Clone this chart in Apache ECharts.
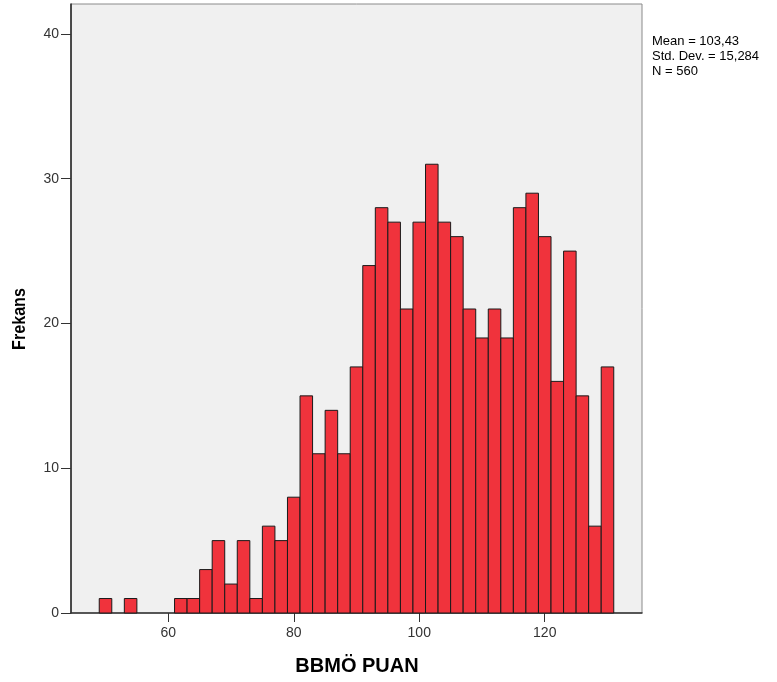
<!DOCTYPE html>
<html>
<head>
<meta charset="utf-8">
<script src="https://cdn.jsdelivr.net/npm/echarts@6/dist/echarts.min.js"></script>
<style>
  html, body { margin: 0; padding: 0; background: #ffffff; }
  #chart { width: 777px; height: 682px; }
</style>
</head>
<body>
<div id="chart"></div>
<script>
// Histogram of BBMÖ PUAN scores, bins of width 2
const binStarts = [49, 53, 61, 63, 65, 67, 69, 71, 73, 75, 77, 79, 81, 83, 85, 87, 89, 91, 93, 95,
                   97, 99, 101, 103, 105, 107, 109, 111, 113, 115, 117, 119, 121, 123, 125, 127, 129];
const counts    = [1, 1, 1, 1, 3, 5, 2, 5, 1, 6, 5, 8, 15, 11, 14, 11, 17, 24, 28, 27,
                   21, 27, 31, 27, 26, 21, 19, 21, 19, 28, 29, 26, 16, 25, 15, 6, 17];
const binWidth = 2;
const xTicks = [60, 80, 100, 120];
const statLines = ['Mean = 103,43', 'Std. Dev. = 15,284', 'N = 560'];
const xTitle = 'BBMÖ PUAN';
const yTitle = 'Frekans';

const barData = binStarts.map((s, i) => [s, s + binWidth, counts[i]]);

const chart = echarts.init(document.getElementById('chart'), null, { renderer: 'canvas' });

const font = 'Liberation Sans, Arial, sans-serif';

chart.setOption({
  animation: false,
  backgroundColor: '#ffffff',
  grid: {
    left: 71, top: 4, right: 135, bottom: 69,
    show: true,
    backgroundColor: '#F0F0F0',
    borderColor: '#8a8a8a',
    borderWidth: 1
  },
  xAxis: {
    type: 'value',
    min: 44.5,
    max: 135.5,
    axisLine: { show: true, onZero: false, lineStyle: { color: '#333', width: 1.5 } },
    axisTick: { show: true, length: 9, customValues: xTicks, lineStyle: { color: '#333' } },
    axisLabel: { customValues: xTicks, fontFamily: font, fontSize: 14, color: '#333', margin: 13 },
    splitLine: { show: false }
  },
  yAxis: {
    type: 'value',
    min: 0,
    max: 42.07,
    interval: 10,
    axisLine: { show: true, lineStyle: { color: '#222', width: 1.5 } },
    axisTick: { show: true, length: 10, lineStyle: { color: '#333' } },
    axisLabel: {
      fontFamily: font, fontSize: 14, color: '#333', margin: 12,
      showMaxLabel: false,
      formatter: v => (v % 10 === 0 ? String(v) : '')
    },
    splitLine: { show: false }
  },
  graphic: [{
    type: 'text',
    left: 652,
    top: 34,
    style: {
      text: statLines.join('\n'),
      font: '13px ' + font,
      fill: '#000',
      lineHeight: 15
    }
  }, {
    type: 'text',
    x: 357,
    y: 666,
    style: {
      text: xTitle,
      font: 'bold 20px ' + font,
      fill: '#000',
      align: 'center',
      verticalAlign: 'middle'
    }
  }, {
    type: 'text',
    x: 20,
    y: 319,
    rotation: Math.PI / 2,
    scaleX: 0.85,
    style: {
      text: yTitle,
      font: 'bold 19px ' + font,
      fill: '#000',
      align: 'center',
      verticalAlign: 'middle'
    }
  }],
  series: [{
    type: 'custom',
    data: barData,
    encode: { x: [0, 1], y: 2 },
    renderItem: function (params, api) {
      const p0 = api.coord([api.value(0), api.value(2)]);
      const p1 = api.coord([api.value(1), 0]);
      return {
        type: 'rect',
        shape: { x: p0[0], y: p0[1], width: p1[0] - p0[0], height: p1[1] - p0[1] },
        style: { fill: '#F0333C', stroke: '#1a1a1a', lineWidth: 1 }
      };
    }
  }]
});
</script>
</body>
</html>
